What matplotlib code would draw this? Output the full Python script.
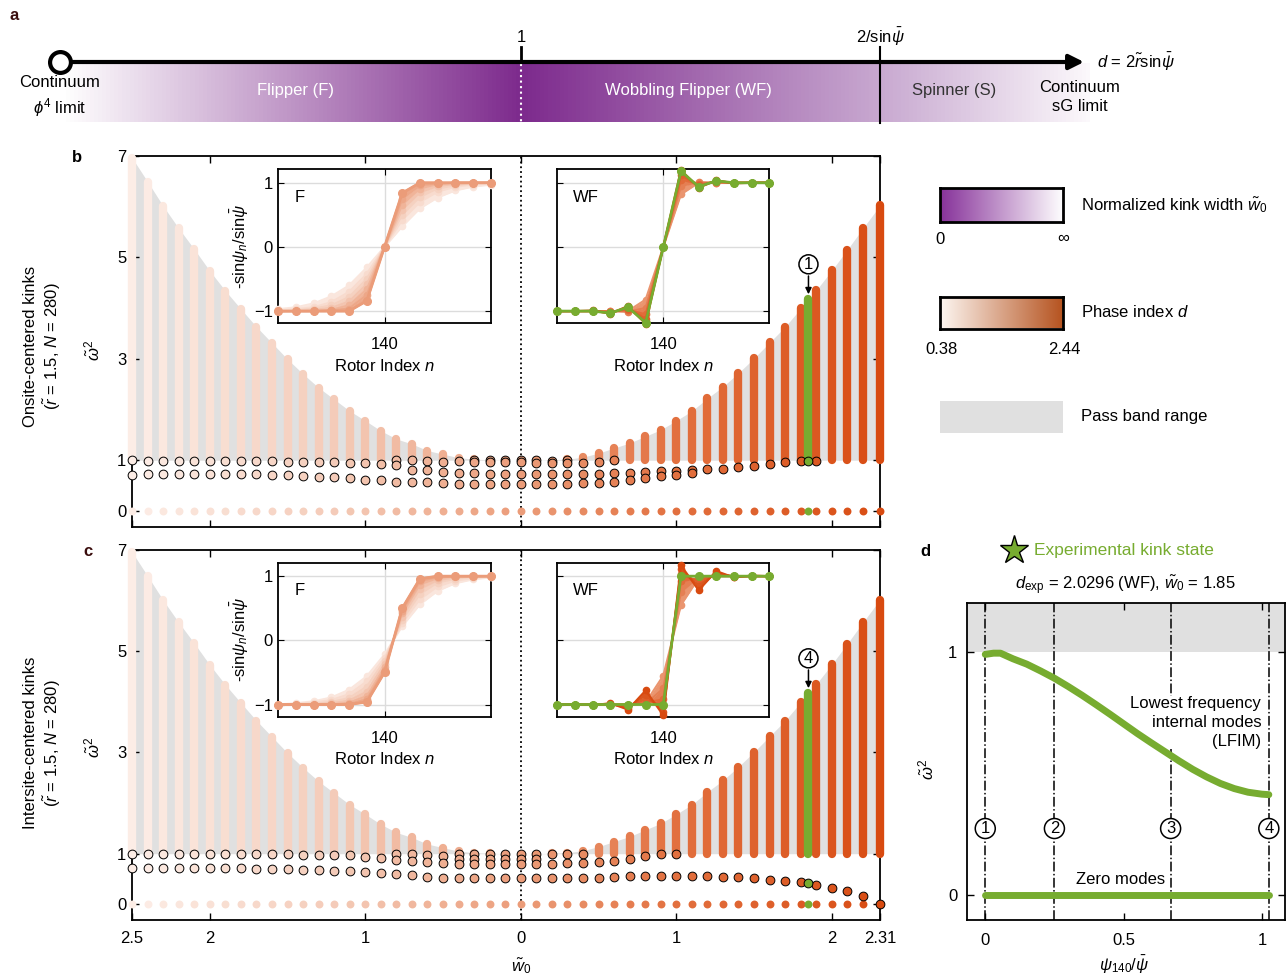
import numpy as np
import matplotlib
matplotlib.use("Agg")
import matplotlib.pyplot as plt
from matplotlib.colors import LinearSegmentedColormap, Normalize
from matplotlib.lines import Line2D
from matplotlib.patches import Rectangle

plt.rcParams['font.family'] = ['Liberation Sans', 'DejaVu Sans']
plt.rcParams['font.size'] = 12
plt.rcParams['mathtext.fontset'] = 'custom'
plt.rcParams['mathtext.rm'] = 'Liberation Sans'
plt.rcParams['mathtext.it'] = 'Liberation Sans:italic'
plt.rcParams['mathtext.bf'] = 'Liberation Sans:bold'
plt.rcParams['axes.linewidth'] = 1.3

W, H = 1288, 975
GREEN = '#77ac30'
GRAY = '#e0e0e0'

# ---------------- data ----------------
# signed kink width: left half = Flipper side (-w0), right half = WF side (+w0)
w0_signed = [-2.5, -2.4, -2.3, -2.2, -2.1, -2.0, -1.9, -1.8, -1.7, -1.6, -1.5, -1.4, -1.3,
             -1.2, -1.1, -1.0, -0.9, -0.8, -0.7, -0.6, -0.5, -0.4, -0.3, -0.2, -0.1, 0.0,
             0.1, 0.2, 0.3, 0.4, 0.5, 0.6, 0.7, 0.8, 0.9, 1.0, 1.1, 1.2, 1.3, 1.4, 1.5,
             1.6, 1.7, 1.8, 1.9, 2.0, 2.1, 2.2, 2.31]
# upper edge of the pass band (omega^2)
band_top = [6.96, 6.49, 6.01, 5.57, 5.16, 4.73, 4.34, 3.98, 3.63, 3.31, 2.99, 2.70, 2.43,
            2.20, 1.97, 1.78, 1.58, 1.42, 1.32, 1.19, 1.12, 1.05, 1.02, 1.01, 1.00, 1.00,
            1.00, 1.01, 1.02, 1.06, 1.14, 1.24, 1.34, 1.47, 1.60, 1.78, 1.97, 2.22, 2.45,
            2.72, 3.01, 3.32, 3.63, 3.99, 4.35, 4.74, 5.15, 5.57, 6.02]
# phase index d of every column
phase_d = [0.38, 0.40, 0.43, 0.45, 0.48, 0.50, 0.53, 0.55, 0.58, 0.60, 0.63, 0.65, 0.68,
           0.70, 0.73, 0.75, 0.78, 0.80, 0.83, 0.85, 0.88, 0.90, 0.93, 0.95, 0.98, 1.00,
           1.06, 1.12, 1.18, 1.24, 1.30, 1.36, 1.42, 1.48, 1.54, 1.60, 1.66, 1.72, 1.78,
           1.84, 1.90, 1.96, 2.02, 2.08, 2.14, 2.20, 2.26, 2.32, 2.44]
# internal modes (omega^2) per column, onsite-centered kinks
modes_onsite = [
    [1.00, 0.715], [0.99, 0.735], [0.99, 0.735], [0.99, 0.735], [0.99, 0.73],
    [0.98, 0.73], [0.98, 0.73], [0.98, 0.72], [0.98, 0.72], [0.98, 0.71],
    [0.97, 0.70], [0.97, 0.69], [0.96, 0.67], [0.96, 0.66], [0.95, 0.65],
    [0.94, 0.62], [0.92, 0.62],
    [1.00, 0.91, 0.58], [1.00, 0.81, 0.57], [0.98, 0.80, 0.57], [0.96, 0.76, 0.55],
    [0.98, 0.75, 0.54],
    [1.00, 0.96, 0.75, 0.54], [1.00, 0.96, 0.73, 0.54], [1.00, 0.96, 0.73, 0.54],
    [1.00, 0.96, 0.73, 0.53],
    [1.00, 0.95, 0.73, 0.53], [0.98, 0.95, 0.73, 0.53], [1.00, 0.95, 0.73, 0.53],
    [0.95, 0.73, 0.55], [0.96, 0.73, 0.56], [1.00, 0.75, 0.58],
    [0.75, 0.62], [0.76, 0.65], [0.78, 0.68], [0.78, 0.71], [0.80, 0.75],
    [0.82], [0.83], [0.86], [0.89], [0.93], [0.96], [0.98], [0.99],
    [], [], [], []]
# internal modes per column, intersite-centered kinks
modes_intersite = [
    [1.00, 0.72], [0.99, 0.72], [0.99, 0.72], [0.99, 0.72], [0.99, 0.72],
    [0.99, 0.71], [0.99, 0.71], [0.99, 0.71], [0.99, 0.70], [0.99, 0.70],
    [0.99, 0.69], [0.98, 0.68], [0.98, 0.67], [0.97, 0.66], [0.97, 0.65],
    [0.94, 0.63], [0.91, 0.61],
    [1.00, 0.88, 0.59], [1.00, 0.86, 0.57], [0.98, 0.83, 0.54], [0.96, 0.81, 0.52],
    [1.00, 0.90, 0.80, 0.51], [1.00, 0.90, 0.80, 0.51], [1.00, 0.90, 0.80, 0.51],
    [1.00, 0.90, 0.80, 0.51], [1.00, 0.90, 0.80, 0.51], [1.00, 0.90, 0.80, 0.51],
    [1.00, 0.80, 0.51], [1.00, 0.81, 0.51], [1.00, 0.81, 0.51],
    [0.83, 0.52], [0.85, 0.54], [0.90, 0.55], [0.95, 0.55], [0.99, 0.55], [1.00, 0.55],
    [0.55], [0.55], [0.54], [0.53], [0.51], [0.49], [0.47], [0.44],
    [0.39], [0.33], [0.26], [0.16], [0.01]]
zero_modes = [0.0] * len(w0_signed)

# experimental kink state
exp_w0 = 1.85
exp_top = 4.18
exp_mode_onsite = 0.98
exp_mode_intersite = 0.42

# insets: kink profiles -sin(psi_n)/sin(psi_bar); right half, n = 141..146
rotor_n = [134, 135, 136, 137, 138, 139, 140, 141, 142, 143, 144, 145, 146]
F_onsite_half = [
    [0.32, 0.60, 0.77, 0.88, 0.94, 0.97],
    [0.42, 0.70, 0.86, 0.94, 0.97, 0.99],
    [0.50, 0.78, 0.91, 0.96, 0.99, 1.00],
    [0.58, 0.85, 0.95, 0.98, 1.00, 1.00],
    [0.66, 0.91, 0.98, 1.00, 1.00, 1.00],
    [0.75, 0.96, 0.99, 1.00, 1.00, 1.00],
    [0.84, 1.00, 1.00, 1.00, 1.00, 1.00]]
F_d = [0.45, 0.55, 0.65, 0.75, 0.85, 0.93, 1.00]
WF_onsite_half = [
    [0.82, 1.00, 1.00, 1.00, 1.00, 1.00],
    [0.95, 1.01, 1.00, 1.00, 1.00, 1.00],
    [1.05, 0.98, 1.01, 1.00, 1.00, 1.00],
    [1.12, 0.96, 1.02, 1.00, 1.00, 1.00],
    [1.17, 0.94, 1.03, 1.00, 1.00, 1.00],
    [1.20, 0.92, 1.04, 0.99, 1.00, 1.00]]
WF_d = [1.10, 1.40, 1.70, 1.95, 2.20, 2.44]
WF_onsite_exp = [1.18, 0.94, 1.03, 1.00, 1.00, 1.00]
F_intersite_half = [
    [0.22, 0.56, 0.77, 0.89, 0.95, 0.98],
    [0.27, 0.64, 0.84, 0.93, 0.97, 0.99],
    [0.32, 0.72, 0.90, 0.96, 0.99, 1.00],
    [0.37, 0.80, 0.94, 0.98, 1.00, 1.00],
    [0.42, 0.87, 0.97, 1.00, 1.00, 1.00],
    [0.46, 0.92, 0.99, 1.00, 1.00, 1.00],
    [0.50, 0.96, 1.00, 1.00, 1.00, 1.00]]
WF_intersite_half = [
    [0.55, 0.97, 1.00, 1.00, 1.00, 1.00],
    [0.75, 0.99, 1.00, 1.00, 1.00, 1.00],
    [0.92, 0.97, 1.01, 1.00, 1.00, 1.00],
    [1.03, 0.92, 1.03, 1.00, 1.00, 1.00],
    [1.11, 0.85, 1.05, 0.99, 1.00, 1.00],
    [1.17, 0.78, 1.08, 0.98, 1.01, 1.00]]
WF_intersite_exp = [1.00, 1.00, 1.00, 1.00, 1.00, 1.00]

# panel d: lowest frequency internal mode vs psi_140/psi_bar
psi_ratio = [0.0, 0.03, 0.055, 0.1, 0.15, 0.2, 0.25, 0.3, 0.35, 0.4, 0.45, 0.5, 0.55,
             0.6, 0.65, 0.7, 0.75, 0.8, 0.85, 0.9, 0.95, 1.0, 1.025]
lfim = [0.99, 0.995, 0.995, 0.972, 0.950, 0.922, 0.892, 0.858, 0.822, 0.784, 0.745,
        0.705, 0.665, 0.627, 0.590, 0.553, 0.518, 0.487, 0.460, 0.439, 0.424, 0.416, 0.414]
zero_d = [0.0] * len(psi_ratio)
state_pos = [0.0, 0.25, 0.67, 1.025]

# ---------------- colours ----------------
norm = Normalize(0.38, 2.44)
cmap_phase = LinearSegmentedColormap.from_list(
    'phase', [(0.0, '#fcede6'), (0.155, '#f4cbb8'), (0.301, '#eb9c79'),
              (0.592, '#e2703f'), (1.0, '#d84a10')])
cmap_width = LinearSegmentedColormap.from_list('width', ['#87329a', '#ffffff'])
cmap_phase_bar = LinearSegmentedColormap.from_list('pbar', ['#fdf6f1', '#b5521e'])
cmap_a = LinearSegmentedColormap.from_list(
    'a', [(0.0, '#ffffff'), (0.4465, '#7d2a8d'), (0.7957, '#c8a8d0'), (1.0, '#fbf8fb')])

fig = plt.figure(figsize=(W / 100, H / 100), dpi=100)


def fx(x):
    return x / W


def fy(y):
    return 1 - y / H


def px_axes(l, t, r, b):
    return fig.add_axes([l / W, 1 - b / H, (r - l) / W, (b - t) / H])


grad = np.linspace(0, 1, 256)[None, :]

# ---------------- panel a ----------------
axa = px_axes(0, 0, W, 130)
axa.set_xlim(0, W)
axa.set_ylim(130, 0)
axa.axis('off')
axa.imshow(grad, cmap=cmap_a, aspect='auto', extent=[62, 1090, 122, 63], zorder=0)
axa.annotate('', xy=(1084, 62), xytext=(60, 62),
             arrowprops=dict(arrowstyle='-|>', lw=3, color='k', mutation_scale=22,
                             shrinkA=0, shrinkB=0), zorder=3)
axa.plot(60, 62, 'o', ms=15, mfc='white', mec='k', mew=3, zorder=4)
axa.plot([521, 521], [47, 62], color='k', lw=2)
axa.plot([521, 521], [64, 122], color='white', ls=':', lw=1.5)
axa.plot([880, 880], [47, 123], color='k', lw=1.5)
axa.text(521, 37, '1', ha='center', va='center')
axa.text(880, 37, '2/sin$\\bar{\\psi}$', ha='center', va='center')
axa.text(1097, 62, '$d$ = 2$\\tilde{r}$sin$\\bar{\\psi}$', ha='left', va='center')
axa.text(60, 97, 'Continuum\n$\\phi^4$ limit', ha='center', va='center', linespacing=1.35)
axa.text(296, 91, 'Flipper (F)', ha='center', va='center', color='white')
axa.text(688, 91, 'Wobbling Flipper (WF)', ha='center', va='center', color='white')
axa.text(954, 91, 'Spinner (S)', ha='center', va='center', color='#333333')
axa.text(1080, 97, 'Continuum\nsG limit', ha='center', va='center', linespacing=1.35)

fig.text(fx(14), fy(15), 'a', fontweight='bold', ha='center', va='center', color='#3a0d0d')
fig.text(fx(77), fy(158), 'b', fontweight='bold', ha='center', va='center')
fig.text(fx(88), fy(551), 'c', fontweight='bold', ha='center', va='center', color='#3a0d0d')
fig.text(fx(925), fy(551), 'd', fontweight='bold', ha='center', va='center')


# ---------------- panels b, c ----------------
def draw_main(ax, modes, exp_mode, tag, show_xlabels):
    colors = cmap_phase(norm(np.array(phase_d)))
    ax.set_xlim(-2.5, 2.31)
    ax.set_ylim(-0.31, 7.0)
    ax.fill_between(w0_signed, 1, band_top, color=GRAY, lw=0, zorder=1)
    ax.axvline(0, color='k', ls=':', lw=1.3, zorder=1.5)
    for x, top, c, ms, z in zip(w0_signed, band_top, colors, modes, zero_modes):
        ax.plot([x, x], [1, top], color=c, lw=6, solid_capstyle='round', zorder=3,
                clip_on=False)
        ax.plot(x, z, 'o', ms=5.7, mfc=c, mec='none', zorder=4, clip_on=False)
        if ms:
            ax.plot([x] * len(ms), ms, 'o', ms=6.3, mfc=c, mec='k', mew=0.7, zorder=5,
                    clip_on=False)
    ax.plot([exp_w0, exp_w0], [1, exp_top], color=GREEN, lw=6, solid_capstyle='round',
            zorder=3.5)
    ax.plot(exp_w0, 0, 'o', ms=5.7, mfc=GREEN, mec='none', zorder=4.5)
    ax.plot(exp_w0, exp_mode, 'o', ms=6.3, mfc=GREEN, mec='k', mew=0.7, zorder=5.5)
    ax.text(exp_w0, 4.86, tag, ha='center', va='center', zorder=6,
            bbox=dict(boxstyle='circle,pad=0.12', fc='white', ec='k', lw=1.1))
    ax.annotate('', xy=(exp_w0, 4.27), xytext=(exp_w0, 4.63),
                arrowprops=dict(arrowstyle='-|>', color='k', lw=1.1, mutation_scale=9,
                                shrinkA=0, shrinkB=0), zorder=6)
    ax.set_xticks([-2.5, -2, -1, 0, 1, 2, 2.31])
    ax.set_yticks([0, 1, 3, 5, 7])
    ax.tick_params(direction='in', top=True, right=True, length=5, width=1, pad=4)
    if show_xlabels:
        ax.set_xticklabels(['2.5', '2', '1', '0', '1', '2', '2.31'])
        ax.tick_params(axis='x', pad=8)
    else:
        ax.tick_params(labelbottom=False)


def full_onsite(half):
    return [-v for v in half[::-1]] + [0.0] + list(half)


def full_intersite(half):
    return [-1.0] + [-v for v in half[::-1]] + list(half)


def draw_inset(ax, curves, curve_d, main_curve, main_color, label, show_y):
    ax.set_xlim(134, 146)
    ax.set_ylim(-1.19, 1.21)
    ax.set_xticks([140])
    ax.set_yticks([-1, 0, 1])
    ax.grid(True, color='#dcdcdc', lw=1)
    ax.set_axisbelow(True)
    ax.tick_params(direction='in', top=True, right=True, length=4, pad=10)
    cols = cmap_phase(norm(np.array(curve_d)))
    for i in range(len(curves) - 1):
        ax.fill_between(rotor_n, curves[i], curves[i + 1], color=cols[i], lw=0, zorder=2)
    for prof, c in zip(curves, cols):
        ax.plot(rotor_n, prof, '-o', color=c, lw=1.5, ms=4.5, zorder=3, clip_on=False)
    ax.plot(rotor_n, main_curve, '-o', color=main_color, lw=2, ms=5.5, zorder=4,
            clip_on=False)
    ax.text(0.075, 0.82, label, transform=ax.transAxes, ha='left', va='center')
    ax.set_xlabel('Rotor Index $n$', labelpad=4)
    if show_y:
        ax.set_ylabel('-sin$\\psi_n$/sin$\\bar{\\psi}$', labelpad=2)
        ax.tick_params(axis='y', pad=4)
    else:
        ax.tick_params(labelleft=False)


axb = px_axes(132, 155.7, 880, 526.7)
draw_main(axb, modes_onsite, exp_mode_onsite, '1', False)
axc = px_axes(132, 550, 880, 920)
draw_main(axc, modes_intersite, exp_mode_intersite, '4', True)

for ycen, title in [(346, 'Onsite-centered kinks'), (743, 'Intersite-centered kinks')]:
    fig.text(fx(31), fy(ycen), title, rotation=90, ha='center', va='center')
    fig.text(fx(52), fy(ycen), '($\\tilde{r}$ = 1.5, $N$ = 280)', rotation=90,
             ha='center', va='center')
    fig.text(fx(92), fy(ycen + 4), '$\\tilde{\\omega}^2$', rotation=90, ha='center',
             va='center')
fig.text(fx(521), fy(966), '$\\tilde{w}_0$', ha='center', va='center')

# insets
F_on = [full_onsite(h) for h in F_onsite_half]
draw_inset(px_axes(278.3, 169.3, 490.7, 323.3), F_on, F_d, F_on[-1],
           cmap_phase(norm(F_d[-1])), 'F', True)
WF_on = [full_onsite(h) for h in WF_onsite_half]
draw_inset(px_axes(557.3, 169.3, 769.3, 323.3), WF_on, WF_d, full_onsite(WF_onsite_exp),
           GREEN, 'WF', False)
F_in = [full_intersite(h) for h in F_intersite_half]
draw_inset(px_axes(278.3, 562.7, 490.7, 716.7), F_in, F_d, F_in[-1],
           cmap_phase(norm(F_d[-1])), 'F', True)
WF_in = [full_intersite(h) for h in WF_intersite_half]
draw_inset(px_axes(557.3, 562.7, 769.3, 716.7), WF_in, WF_d,
           full_intersite(WF_intersite_exp), GREEN, 'WF', False)

# ---------------- legend column ----------------
for (t, b), cm in [((188.4, 221.8), cmap_width), ((297, 328.5), cmap_phase_bar)]:
    cb = px_axes(939.5, t, 1063, b)
    cb.imshow(grad, cmap=cm, aspect='auto', extent=[0, 1, 0, 1])
    cb.set_xticks([])
    cb.set_yticks([])
    for s in cb.spines.values():
        s.set_linewidth(2)
fig.text(fx(1081), fy(205), 'Normalized kink width $\\tilde{w}_0$', va='center')
fig.text(fx(939.5), fy(240), '0', ha='center', va='center')
fig.text(fx(1063), fy(238), '\u221e', ha='center', va='center')
fig.text(fx(1081), fy(312), 'Phase index $d$', va='center')
fig.text(fx(942), fy(349), '0.38', ha='center', va='center')
fig.text(fx(1064), fy(349), '2.44', ha='center', va='center')
fig.add_artist(Rectangle((fx(939.5), fy(432.5)), (1062.5 - 939.5) / W, 32 / H,
                         transform=fig.transFigure, fc=GRAY, ec='none'))
fig.text(fx(1081), fy(417), 'Pass band range', va='center')

# ---------------- panel d ----------------
axd = px_axes(967, 603, 1284.6, 919.6)
axd.set_xlim(-0.066, 1.082)
axd.set_ylim(-0.099, 1.201)
axd.axhspan(1, 1.201, color=GRAY, lw=0, zorder=0)
for xs in state_pos:
    axd.axvline(xs, color='k', ls='-.', lw=1.1, zorder=1)
axd.plot(psi_ratio, lfim, color=GREEN, lw=5, solid_capstyle='round', zorder=4)
axd.plot(psi_ratio, zero_d, color=GREEN, lw=5, solid_capstyle='round', zorder=4)
for k, xs in enumerate(state_pos):
    axd.text(xs, 0.275, str(k + 1), ha='center', va='center', zorder=5,
             bbox=dict(boxstyle='circle,pad=0.15', fc='white', ec='k', lw=1.1))
axd.text(0.998, 0.71, 'Lowest frequency\ninternal modes\n(LFIM)', ha='right',
         va='center', multialignment='right', linespacing=1.35, zorder=2,
         bbox=dict(fc='white', ec='none', pad=0))
axd.text(0.49, 0.066, 'Zero modes', ha='center', va='center', zorder=4)
axd.set_xticks([0, 0.5, 1])
axd.set_xticklabels(['0', '0.5', '1'])
axd.set_yticks([0, 1])
axd.tick_params(direction='in', top=True, right=True, length=5, width=1)
axd.tick_params(axis='x', pad=10)
axd.tick_params(axis='y', pad=7)
fig.text(fx(926), fy(769), '$\\tilde{\\omega}^2$', rotation=90, ha='center', va='center')
fig.text(fx(1124), fy(965), '$\\psi_{140}/\\bar{\\psi}$', ha='center', va='center')
fig.add_artist(Line2D([fx(1014)], [fy(550)], marker='*', ms=21, mfc=GREEN, mec='k',
                      mew=1, transform=fig.transFigure))
fig.text(fx(1034), fy(550), 'Experimental kink state', color=GREEN, va='center',
         fontsize=12.5)
fig.text(fx(1125), fy(585), '$d_{\\rm exp}$ = 2.0296 (WF), $\\tilde{w}_0$ = 1.85',
         ha='center', va='center')

fig.savefig('out.png', dpi=100)
